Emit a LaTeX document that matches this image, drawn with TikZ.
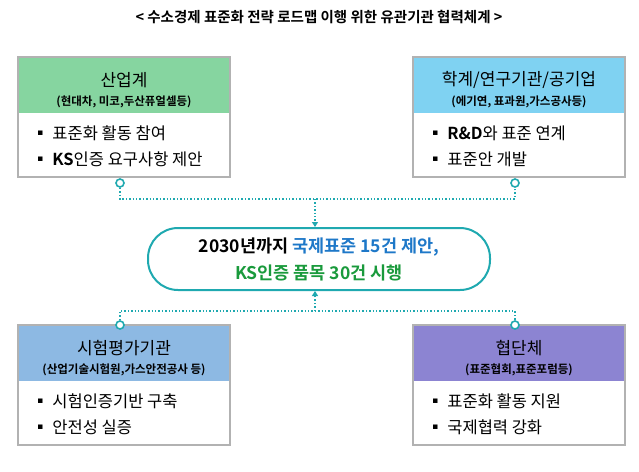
\documentclass[tikz,border=0pt]{standalone}
\usepackage{fontspec}
\usetikzlibrary{arrows.meta}
\setmainfont{Noto Sans CJK KR}
\newfontfamily\hb{Noto Sans CJK KR Bold}
\definecolor{teal1}{HTML}{1FA9B0}
\definecolor{gh}{HTML}{86D5A0}
\definecolor{bh}{HTML}{7FD2F2}
\definecolor{lh}{HTML}{8DB9E3}
\definecolor{ph}{HTML}{8C84D2}
\definecolor{bl}{HTML}{1E78C8}
\definecolor{gr}{HTML}{1A9A3C}
\begin{document}
\begin{tikzpicture}[x=1pt,y=-1pt,
  frame/.style={draw=gray!60,line width=1.5pt},
  hd/.style={inner sep=0pt,align=center,font=\fontsize{17}{20}\selectfont},
  sub/.style={inner sep=0pt,font=\hb\fontsize{11.5}{13}\selectfont},
  it/.style={inner sep=0pt,anchor=west,align=left,font=\fontsize{16.5}{26}\selectfont},
  dot/.style={draw=teal1,line width=1.6pt,fill=white,circle,inner sep=0pt,minimum size=8pt},
  lk/.style={teal1,line width=1.4pt,dotted},
  ar/.style={-{Triangle[length=5pt,width=6pt]},teal1,line width=1.4pt,dotted}]
\useasboundingbox (0,0) rectangle (639,471);
\node[font=\hb\fontsize{14.5}{17}\selectfont] (title) at (319,17) {< 수소경제 표준화 전략 로드맵 이행 위한 유관기관 협력체계 >};
% boxes
\foreach \n/\x/\y/\c in {a/18/57/gh,b/413/57/bh,c/18/325/lh,d/413/325/ph}{
  \fill[\c] (\x,\y) rectangle ++(212,56);
  \draw[frame] (\x,\y) rectangle ++(212,120);
  \coordinate (\n) at (\x,\y);
}
\node[hd] (ah) at (124,80) {산업계};
\node[sub] (as) at (124,102) {(현대차, 미코,두산퓨얼셀등)};
\node[it] (ai) at (32,146) {▪ 표준화 활동 참여\\▪ {\hb KS}인증 요구사항 제안};
\node[hd] (bh1) at (519,80) {학계/연구기관/공기업};
\node[sub] (bs) at (519,102) {(에기연, 표과원,가스공사등)};
\node[it] (bi) at (427,146) {▪ {\hb R\&D}와 표준 연계\\▪ 표준안 개발};
\node[hd] (ch) at (124,348) {시험평가기관};
\node[sub] (cs) at (124,370) {(산업기술시험원,가스안전공사 등)};
\node[it] (ci) at (32,414) {▪ 시험인증기반 구축\\▪ 안전성 실증};
\node[hd] (dh) at (519,348) {협단체};
\node[sub] (ds) at (519,370) {(표준협회,표준포럼등)};
\node[it] (di) at (427,414) {▪ 표준화 활동 지원\\▪ 국제협력 강화};
% center
\node[draw=teal1,line width=2pt,rounded corners=30pt,minimum width=342pt,minimum height=62pt,align=center,
  font=\hb\fontsize{17.5}{27}\selectfont] (ctr) at (319,259)
  {2030년까지 \textcolor{bl}{국제표준 15건 제안,}\\\textcolor{gr}{KS인증 품목 30건 시행}};
% connectors
\node[dot] (d1) at (120,183) {};
\node[dot] (d2) at (515,183) {};
\node[dot] (d3) at (120,325) {};
\node[dot] (d4) at (515,325) {};
\coordinate (j1) at (315,199);
\coordinate (j2) at (315,311);
\draw[lk] (d1.south) |- (j1) -| (d2.south);
\draw[ar] (j1) -- (ctr.north -| j1);
\draw[lk] (d3.north) |- (j2) -| (d4.north);
\draw[ar] (j2) -- (ctr.south -| j2);
\end{tikzpicture}
\end{document}
